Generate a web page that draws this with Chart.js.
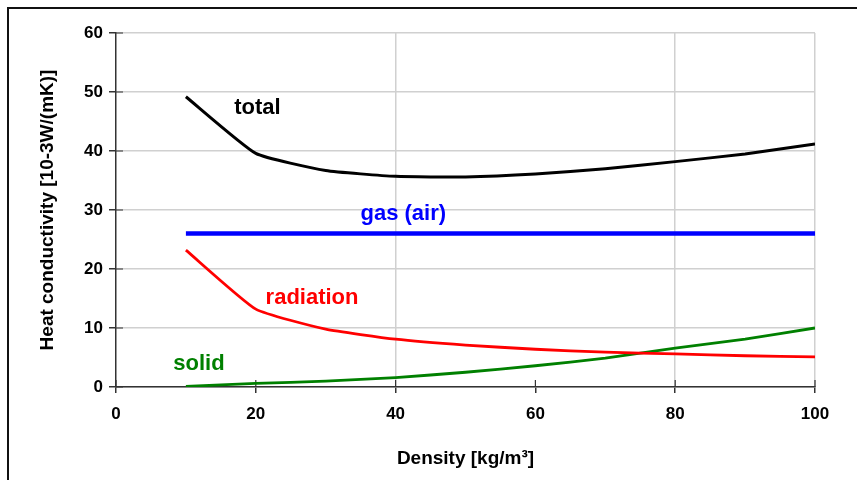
<!DOCTYPE html>
<html><head><meta charset="utf-8">
<script src="https://cdn.jsdelivr.net/npm/chart.js@4/dist/chart.umd.min.js"></script>
<style>html,body{margin:0;padding:0;background:#fff;}#wrap{width:857px;height:480px;position:relative;}</style>
</head><body><div id="wrap"><canvas id="c" width="857" height="480"></canvas></div>
<script>
const densities = [10, 20, 30, 40, 50, 60, 70, 80, 90, 100];
const totalValues = [49.2, 39.6, 36.7, 35.7, 35.6, 36.1, 37.0, 38.2, 39.5, 41.2];
const gasValues = [26, 26, 26, 26, 26, 26, 26, 26, 26, 26];
const radiationValues = [23.2, 13.2, 9.8, 8.1, 7.1, 6.4, 5.9, 5.6, 5.3, 5.1];
const solidValues = [0.1, 0.6, 1.0, 1.6, 2.5, 3.6, 4.9, 6.6, 8.1, 10.0];
const seriesNames = ['total', 'gas (air)', 'radiation', 'solid'];
const xTitle = 'Density [kg/m³]';
const yTitle = 'Heat conductivity [10-3W/(mK)]';

const pts = vals => densities.map((d, i) => ({x: d, y: vals[i]}));

const labelPlugin = {
  id: 'labels',
  beforeDraw(chart) {
    const ctx = chart.ctx;
    ctx.save();
    ctx.fillStyle = '#fff';
    ctx.fillRect(0, 0, chart.width, chart.height);
    ctx.strokeStyle = '#111';
    ctx.lineWidth = 2;
    ctx.strokeRect(8, 8, 900, 520);
    ctx.restore();
  },
  beforeDatasetsDraw(chart) {
    const ctx = chart.ctx, xs = chart.scales.x, ys = chart.scales.y;
    ctx.save();
    ctx.strokeStyle = '#333';
    ctx.lineWidth = 1.2;
    ctx.beginPath();
    xs.ticks.forEach(t => {
      const px = xs.getPixelForValue(t.value);
      ctx.moveTo(px, ys.bottom); ctx.lineTo(px, ys.bottom - 7);
    });
    ys.ticks.forEach(t => {
      const py = ys.getPixelForValue(t.value);
      ctx.moveTo(xs.left, py); ctx.lineTo(xs.left + 7, py);
    });
    ctx.stroke();
    ctx.restore();
  },
  afterDatasetsDraw(chart) {
    const ctx = chart.ctx, xs = chart.scales.x, ys = chart.scales.y;
    const items = [
      {t: seriesNames[0], x: 16.9, y: 47.3, c: '#000', a: 'left'},
      {t: seriesNames[1], x: 41.1, y: 29.3, c: '#0000ff', a: 'center'},
      {t: seriesNames[2], x: 21.4, y: 15.1, c: '#ff0000', a: 'left'},
      {t: seriesNames[3], x: 8.2, y: 3.9, c: '#008000', a: 'left'}
    ];
    ctx.save();
    ctx.font = 'bold 22px "Liberation Sans", Arial, sans-serif';
    ctx.textBaseline = 'middle';
    items.forEach(it => {
      ctx.fillStyle = it.c;
      ctx.textAlign = it.a;
      ctx.fillText(it.t, xs.getPixelForValue(it.x), ys.getPixelForValue(it.y));
    });
    ctx.restore();
  }
};

const tickFont = {family: '"Liberation Sans", Arial, sans-serif', weight: 'bold', size: 17};
const titleFont = {family: '"Liberation Sans", Arial, sans-serif', weight: 'bold', size: 19};

new Chart(document.getElementById('c'), {
  type: 'line',
  data: {
    datasets: [
      {label: seriesNames[0], data: pts(totalValues), borderColor: '#000', borderWidth: 3, pointRadius: 0, tension: 0.15},
      {label: seriesNames[1], data: pts(gasValues), borderColor: '#0000ff', borderWidth: 4.5, pointRadius: 0, tension: 0},
      {label: seriesNames[2], data: pts(radiationValues), borderColor: '#ff0000', borderWidth: 2.8, pointRadius: 0, tension: 0.15},
      {label: seriesNames[3], data: pts(solidValues), borderColor: '#008000', borderWidth: 2.8, pointRadius: 0, tension: 0.15}
    ]
  },
  options: {
    responsive: false,
    animation: false,
    layout: {padding: {top: 33, right: 42, left: 0, bottom: 0}},
    plugins: {legend: {display: false}, tooltip: {enabled: false}},
    scales: {
      x: {
        type: 'linear', min: 0, max: 100,
        ticks: {stepSize: 20, color: '#000', font: tickFont, padding: 11},
        grid: {
          color: c => (c.tick && (c.tick.value === 40 || c.tick.value === 80 || c.tick.value === 100)) ? '#d0d0d0' : 'rgba(0,0,0,0)',
          tickColor: '#333', tickLength: 6, lineWidth: 1.5, drawOnChartArea: true
        },
        border: {color: '#333', width: 1.5},
        title: {display: true, text: xTitle, color: '#000', font: titleFont, padding: {top: 0, bottom: 10}},
        afterFit(s) { s.height = 93; }
      },
      y: {
        min: 0, max: 60,
        ticks: {stepSize: 10, color: '#000', font: tickFont, padding: 6},
        grid: {color: '#d0d0d0', tickColor: '#333', tickLength: 7, lineWidth: 1.5},
        border: {color: '#333', width: 1.5},
        title: {display: true, text: yTitle, color: '#000', font: titleFont, padding: {top: 36, bottom: 0}},
        afterFit(s) { s.width = 116; }
      }
    }
  },
  plugins: [labelPlugin]
});
</script>
</body></html>
